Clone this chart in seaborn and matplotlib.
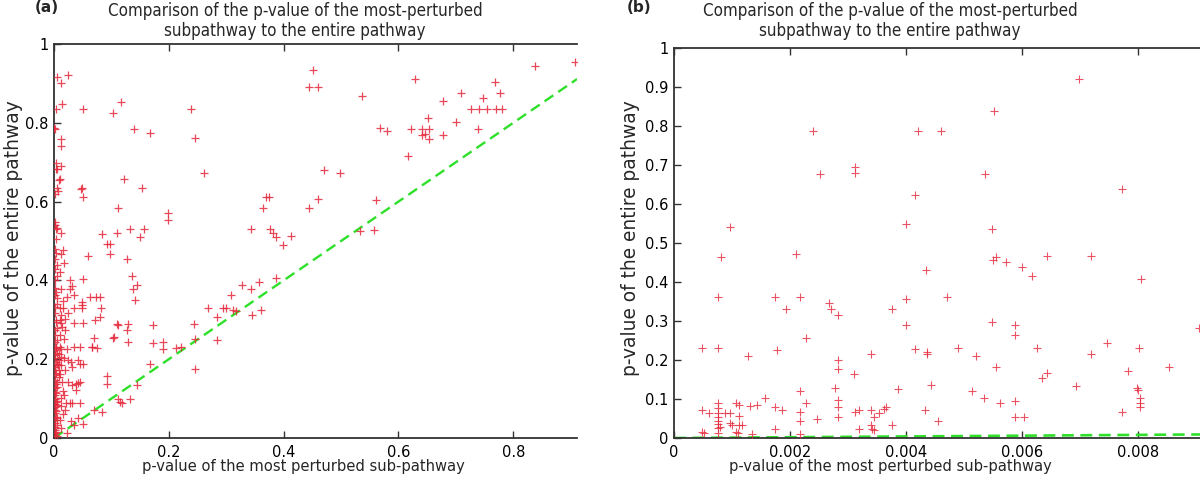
import numpy as np
import pandas as pd
import matplotlib
matplotlib.use("Agg")
import matplotlib.pyplot as plt
import seaborn as sns

# ---------------- data ----------------
# Panel (a): p-value of most perturbed sub-pathway (x) vs entire pathway (y)
a_upper_x = [0.006, 0.025, 0.012, 0.014, 0.003, 0.050, 0.116, 0.102, 0.239, 0.245, 0.139, 0.168,
             0.002, 0.000, 0.012, 0.012, 0.003, 0.003, 0.005, 0.012, 0.010, 0.006, 0.007, 0.002,
             0.048, 0.051, 0.122, 0.154, 0.262, 0.111, 0.199, 0.199, 0.002, 0.003, 0.012, 0.083,
             0.109, 0.132, 0.157, 0.149, 0.343, 0.364, 0.370, 0.374, 0.377, 0.381, 0.386, 0.413,
             0.444, 0.452, 0.459, 0.444, 0.459, 0.536, 0.628, 0.677, 0.709, 0.768, 0.747, 0.777,
             0.727, 0.740, 0.754, 0.770, 0.780, 0.838, 0.908, 0.652, 0.700, 0.568, 0.580, 0.621,
             0.641, 0.653, 0.641, 0.647, 0.653, 0.678, 0.739, 0.617, 0.470, 0.498, 0.561, 0.533,
             0.557]
a_upper_y = [0.917, 0.922, 0.900, 0.847, 0.835, 0.835, 0.853, 0.824, 0.836, 0.762, 0.784, 0.775,
             0.784, 0.786, 0.759, 0.742, 0.697, 0.682, 0.682, 0.690, 0.657, 0.634, 0.628, 0.620,
             0.634, 0.611, 0.657, 0.634, 0.673, 0.584, 0.571, 0.554, 0.540, 0.530, 0.520, 0.518,
             0.520, 0.530, 0.530, 0.509, 0.530, 0.584, 0.611, 0.611, 0.530, 0.520, 0.509, 0.512,
             0.891, 0.933, 0.891, 0.584, 0.607, 0.868, 0.911, 0.855, 0.875, 0.904, 0.863, 0.875,
             0.835, 0.835, 0.835, 0.835, 0.835, 0.943, 0.955, 0.812, 0.802, 0.786, 0.778, 0.784,
             0.784, 0.784, 0.769, 0.772, 0.760, 0.768, 0.784, 0.716, 0.680, 0.673, 0.604, 0.526,
             0.529]
a_mid_x = [0.009, 0.047, 0.001, 0.006, 0.092, 0.097, 0.097, 0.060, 0.016, 0.017, 0.128, 0.135,
           0.145, 0.138, 0.141, 0.050, 0.028, 0.031, 0.028, 0.012, 0.034, 0.063, 0.074, 0.080,
           0.022, 0.048, 0.048, 0.034, 0.048, 0.082, 0.010, 0.016, 0.071, 0.080, 0.050, 0.034,
           0.010, 0.012, 0.020, 0.109, 0.111, 0.129, 0.128, 0.129, 0.173, 0.173, 0.190, 0.190,
           0.070, 0.102, 0.104, 0.066, 0.067, 0.075, 0.034, 0.046, 0.022, 0.010, 0.013, 0.213,
           0.222, 0.243, 0.245, 0.245, 0.268, 0.284, 0.284, 0.294, 0.300, 0.308, 0.311, 0.317,
           0.327, 0.344, 0.345, 0.357, 0.360, 0.386, 0.399]
a_mid_y = [0.656, 0.632, 0.548, 0.533, 0.493, 0.493, 0.466, 0.462, 0.478, 0.445, 0.455, 0.410,
           0.389, 0.377, 0.351, 0.404, 0.400, 0.387, 0.379, 0.379, 0.362, 0.358, 0.358, 0.358,
           0.358, 0.345, 0.337, 0.331, 0.331, 0.331, 0.331, 0.331, 0.299, 0.307, 0.292, 0.292,
           0.299, 0.292, 0.273, 0.290, 0.286, 0.290, 0.273, 0.244, 0.286, 0.241, 0.244, 0.225,
           0.255, 0.255, 0.257, 0.231, 0.231, 0.229, 0.231, 0.231, 0.227, 0.231, 0.227, 0.229,
           0.231, 0.289, 0.252, 0.176, 0.331, 0.306, 0.248, 0.331, 0.331, 0.362, 0.324, 0.322,
           0.389, 0.377, 0.313, 0.397, 0.326, 0.407, 0.491]
a_low_x = [0.167, 0.092, 0.092, 0.111, 0.115, 0.119, 0.133, 0.145, 0.084, 0.070, 0.051, 0.042,
           0.034, 0.029, 0.019, 0.013, 0.022, 0.045, 0.045, 0.039, 0.042, 0.025, 0.031, 0.039,
           0.042, 0.045, 0.050, 0.031, 0.029, 0.013, 0.012, 0.025, 0.019, 0.008, 0.009, 0.007,
           0.008, 0.009, 0.028, 0.032, 0.021, 0.015, 0.012, 0.018, 0.014, 0.011, 0.016, 0.010,
           0.013, 0.017, 0.011, 0.014, 0.018, 0.012, 0.015, 0.011, 0.013, 0.020, 0.024]
a_low_y = [0.187, 0.158, 0.138, 0.098, 0.092, 0.089, 0.100, 0.134, 0.065, 0.071, 0.035, 0.051,
           0.033, 0.043, 0.071, 0.025, 0.013, 0.089, 0.143, 0.138, 0.140, 0.143, 0.134, 0.121,
           0.197, 0.187, 0.187, 0.181, 0.193, 0.206, 0.185, 0.197, 0.172, 0.214, 0.197, 0.185,
           0.172, 0.156, 0.088, 0.089, 0.088, 0.120, 0.101, 0.110, 0.142, 0.163, 0.060, 0.045,
           0.080, 0.203, 0.262, 0.281, 0.251, 0.312, 0.348, 0.421, 0.468, 0.302, 0.318]
a_col_x = [0.001, 0.002, 0.001, 0.003, 0.002, 0.001, 0.002, 0.003, 0.001, 0.002, 0.001, 0.003,
           0.002, 0.001, 0.002, 0.001, 0.003, 0.002, 0.001, 0.002, 0.001, 0.003, 0.002, 0.001,
           0.002, 0.001, 0.003, 0.002, 0.001, 0.002, 0.001, 0.002, 0.001,
           0.005, 0.004, 0.006, 0.005, 0.004, 0.006, 0.005, 0.004, 0.006, 0.005, 0.004, 0.006,
           0.005, 0.004, 0.006, 0.005, 0.004, 0.006, 0.005, 0.004, 0.006, 0.005, 0.004,
           0.001, 0.002, 0.001, 0.002, 0.001, 0.003]
a_col_y = [0.362, 0.332, 0.316, 0.294, 0.273, 0.261, 0.244, 0.231, 0.223, 0.210, 0.202, 0.193,
           0.181, 0.172, 0.159, 0.147, 0.138, 0.126, 0.117, 0.109, 0.100, 0.092, 0.086, 0.079,
           0.071, 0.063, 0.054, 0.046, 0.037, 0.029, 0.020, 0.012, 0.008,
           0.005, 0.015, 0.033, 0.050, 0.068, 0.083, 0.095, 0.113, 0.130, 0.142, 0.165, 0.188,
           0.215, 0.228, 0.250, 0.280, 0.300, 0.340, 0.355, 0.370, 0.410, 0.440, 0.470,
           0.380, 0.400, 0.430, 0.455, 0.480, 0.505]

# Panel (b): zoom on sub-pathway p-values below 0.01
b_x = [0.000966, 0.002397, 0.002523, 0.003126, 0.003126, 0.003994, 0.004155, 0.004212,
       0.006988, 0.005522, 0.004609, 0.005357, 0.007729, 0.005483,
       0.000805, 0.002103, 0.000753, 0.000477, 0.000753, 0.001270, 0.001741, 0.001770,
       0.001931, 0.002172, 0.002276, 0.002672, 0.002702, 0.002833, 0.002822, 0.002822,
       0.002781, 0.002833, 0.002822, 0.002833, 0.003109, 0.003397, 0.003764, 0.003857,
       0.004000, 0.004000, 0.004160,
       0.000477, 0.000609, 0.000477, 0.000517, 0.000753, 0.000753, 0.000753, 0.000753,
       0.000753, 0.000753, 0.000753, 0.000753, 0.000793, 0.000879, 0.000966, 0.000966,
       0.000995, 0.001069, 0.001126, 0.001126, 0.001126, 0.001167, 0.001069, 0.001109,
       0.001310, 0.001437, 0.001340, 0.001569, 0.001741, 0.001741, 0.001868, 0.002172,
       0.002172, 0.002172, 0.002172, 0.002276, 0.002471, 0.003121, 0.003195, 0.003195,
       0.003397, 0.003397, 0.003419, 0.003453, 0.003453, 0.003534, 0.003621, 0.003655,
       0.003764,
       0.004340, 0.004702, 0.005495, 0.005552, 0.005724, 0.006000, 0.006167, 0.006426,
       0.007184, 0.008047, 0.009047, 0.005483, 0.005885, 0.005885, 0.004357, 0.004357,
       0.004891, 0.005212, 0.005552, 0.006259, 0.006426, 0.006340, 0.006926, 0.007184,
       0.007460, 0.007833, 0.008022, 0.008529, 0.007988, 0.008000, 0.008034, 0.008034,
       0.008034, 0.007729, 0.004431, 0.004328, 0.004546, 0.005133, 0.005350, 0.005620,
       0.005879, 0.005879, 0.006040]
b_y = [0.540, 0.786, 0.676, 0.696, 0.679, 0.549, 0.623, 0.788,
       0.921, 0.839, 0.788, 0.677, 0.639, 0.537,
       0.465, 0.471, 0.362, 0.230, 0.230, 0.209, 0.362, 0.226,
       0.332, 0.362, 0.256, 0.347, 0.332, 0.315, 0.200, 0.178,
       0.129, 0.097, 0.080, 0.053, 0.164, 0.215, 0.332, 0.126,
       0.357, 0.290, 0.227,
       0.072, 0.065, 0.015, 0.012, 0.089, 0.076, 0.065, 0.055,
       0.044, 0.035, 0.025, 0.014, 0.029, 0.065, 0.065, 0.038,
       0.033, 0.089, 0.085, 0.056, 0.033, 0.033, 0.016, 0.012,
       0.083, 0.085, 0.010, 0.103, 0.080, 0.023, 0.072, 0.120,
       0.066, 0.044, 0.010, 0.089, 0.050, 0.066, 0.072, 0.023,
       0.072, 0.033, 0.023, 0.021, 0.053, 0.065, 0.074, 0.080,
       0.033,
       0.431, 0.362, 0.456, 0.465, 0.452, 0.439, 0.415, 0.467,
       0.467, 0.407, 0.281, 0.297, 0.290, 0.263, 0.221, 0.215,
       0.230, 0.209, 0.183, 0.230, 0.166, 0.153, 0.134, 0.215,
       0.243, 0.172, 0.231, 0.182, 0.127, 0.123, 0.102, 0.089,
       0.079, 0.066, 0.135, 0.072, 0.044, 0.121, 0.103, 0.089,
       0.096, 0.053, 0.053]

a_xticks = [0, 0.2, 0.4, 0.6, 0.8]
a_xticklabels = ["0", "0.2", "0.4", "0.6", "0.8"]
a_yticks = [0, 0.2, 0.4, 0.6, 0.8, 1.0]
a_yticklabels = ["0", "0.2", "0.4", "0.6", "0.8", "1"]
b_xticks = [0, 0.002, 0.004, 0.006, 0.008]
b_xticklabels = ["0", "0.002", "0.004", "0.006", "0.008"]
b_yticks = [0, 0.1, 0.2, 0.3, 0.4, 0.5, 0.6, 0.7, 0.8, 0.9, 1.0]
b_yticklabels = ["0", "0.1", "0.2", "0.3", "0.4", "0.5", "0.6", "0.7", "0.8", "0.9", "1"]

title_text = "Comparison of the p-value of the most-perturbed\nsubpathway to the entire pathway"
xlabel_text = "p-value of the most perturbed sub-pathway"
ylabel_text = "p-value of the entire pathway"

df_a = pd.DataFrame({
    "x": a_upper_x + a_mid_x + a_low_x + a_col_x,
    "y": a_upper_y + a_mid_y + a_low_y + a_col_y,
})
df_b = pd.DataFrame({"x": b_x, "y": b_y})

# ---------------- style ----------------
sns.set_style("white")
plt.rcParams["font.family"] = ["DejaVu Sans"]

RED = "#e5283a"
GREEN = "#2ee02a"
SPINE = "#333333"

fig = plt.figure(figsize=(12, 4.79), dpi=100)
ax_a = fig.add_axes([54 / 1200, 1 - 438 / 479, 523 / 1200, 394 / 479])
ax_b = fig.add_axes([674 / 1200, 1 - 438 / 479, 526 / 1200, 390 / 479])

def style_axes(ax, xlim, ylim, xt, xtl, yt, ytl):
    ax.set_xlim(*xlim)
    ax.set_ylim(*ylim)
    ax.set_xticks(xt)
    ax.set_xticklabels(xtl)
    ax.set_yticks(yt)
    ax.set_yticklabels(ytl)
    for side in ["left", "bottom", "top"]:
        ax.spines[side].set_visible(True)
        ax.spines[side].set_color(SPINE)
        ax.spines[side].set_linewidth(1.3)
    ax.spines["right"].set_visible(False)
    ax.tick_params(axis="x", direction="in", top=True, bottom=True, length=5, width=1.0,
                   color=SPINE, labelsize=10.5, pad=5, labelcolor="black")
    ax.tick_params(axis="y", direction="in", left=True, right=False, length=5, width=1.0,
                   color=SPINE, labelsize=10.5, pad=4, labelcolor="black")
    ax.set_xlabel("")
    ax.set_ylabel("")
    ax.set_facecolor("white")

sns.scatterplot(data=df_a, x="x", y="y", ax=ax_a, marker="+", color=RED, s=34,
                linewidth=0.9, alpha=0.85, legend=False, zorder=3)
ax_a.axline((0, 0), slope=1, color=GREEN, linewidth=1.7, dashes=(4.5, 2.5), zorder=2)
style_axes(ax_a, (0, 0.911), (0, 1), a_xticks, a_xticklabels, a_yticks, a_yticklabels)

sns.scatterplot(data=df_b, x="x", y="y", ax=ax_b, marker="+", color=RED, s=34,
                linewidth=0.8, alpha=0.8, legend=False, zorder=3)
ax_b.axline((0, 0), slope=1, color=GREEN, linewidth=1.9, dashes=(4.5, 2.5), zorder=2)
style_axes(ax_b, (0, 0.00907), (0, 1), b_xticks, b_xticklabels, b_yticks, b_yticklabels)

# titles, labels
for cx, tag, tx in [(295, "(a)", 35), (890, "(b)", 627)]:
    fig.text(cx / 1200, 1 - 21 / 479, title_text, ha="center", va="center",
             fontsize=12.2, fontstretch="condensed", linespacing=1.2)
    fig.text(tx / 1200, 1 - 8 / 479, tag, ha="left", va="center",
             fontsize=11, fontweight="bold")

for cx in (303, 890):
    fig.text(cx / 1200, 1 - 467 / 479, xlabel_text, ha="center", va="center",
             fontsize=11.8, fontstretch="condensed")
for cx in (14, 631):
    fig.text(cx / 1200, 1 - 238 / 479, ylabel_text, ha="center", va="center",
             fontsize=13.4, rotation=90)

fig.savefig("out.png", dpi=100, facecolor="white")
